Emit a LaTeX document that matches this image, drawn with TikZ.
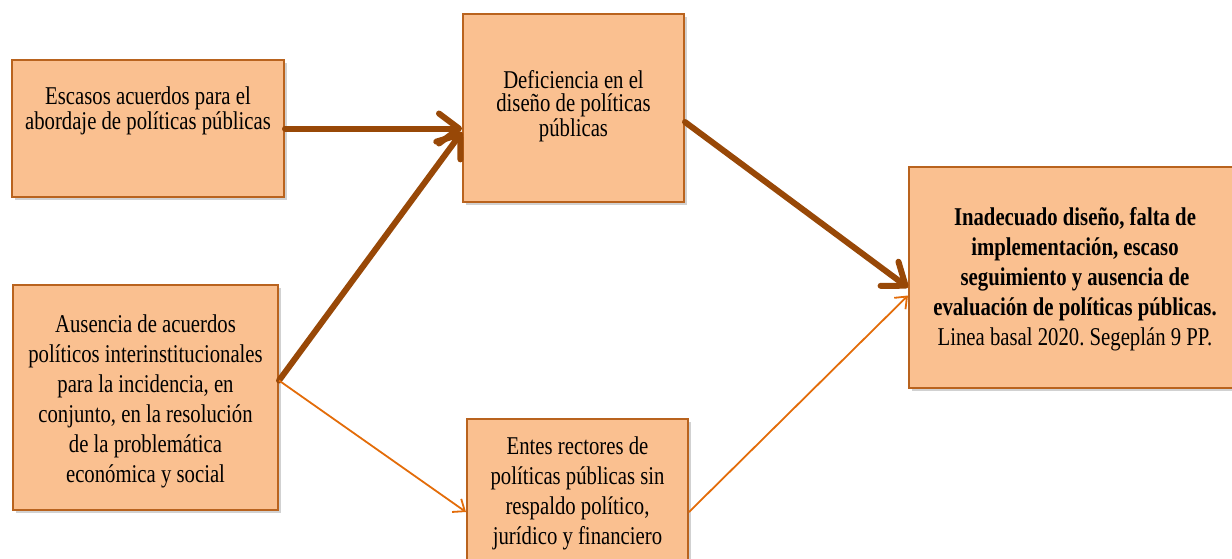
\documentclass[tikz,border=0pt]{standalone}
\usepackage{fontspec}
\setmainfont[FakeStretch=0.81]{Liberation Serif}
\usetikzlibrary{arrows.meta,shadows}
\definecolor{cajafondo}{HTML}{FAC090}
\definecolor{cajaborde}{HTML}{B9631E}
\definecolor{flechafuerte}{HTML}{984807}
\definecolor{flechadebil}{HTML}{E36C09}
\frenchspacing
\tikzset{
  caja/.style={rectangle,draw=cajaborde,line width=1pt,fill=cajafondo,inner sep=0pt,
    drop shadow={shadow xshift=1.5pt,shadow yshift=-1.5pt,opacity=0.3,fill=black!60}},
  texto/.style={align=center,font=\fontsize{12.8}{15}\selectfont,inner sep=0pt},
  fuerte/.style={draw=flechafuerte,line width=3pt,line cap=round,-{Straight Barb[length=10pt,width=15pt,round]}},
  debil/.style={draw=flechadebil,line width=0.9pt,-{Straight Barb[length=5pt,width=8pt]}}
}
\begin{document}
\begin{tikzpicture}[x=0.5pt,y=-0.5pt]
\path[use as bounding box,clip] (0,0) rectangle (1232,558);
\node[caja,minimum width=136pt,minimum height=68.5pt] (A) at (148,128.5) {};
\node[caja,minimum width=110.5pt,minimum height=94pt] (B) at (573.5,108) {};
\node[caja,minimum width=166pt,minimum height=110.5pt] (C) at (1075,277.5) {};
\node[caja,minimum width=132.5pt,minimum height=112.5pt] (D) at (145.5,397.5) {};
\node[caja,minimum width=110.5pt,minimum height=72pt] (E) at (577.5,491) {};
\node[texto,font=\fontsize{12.8}{11}\selectfont] (atxt) at (148,111)
  {Escasos acuerdos para el\\abordaje de políticas públicas};
\node[texto,font=\fontsize{12.8}{11.5}\selectfont] (btxt) at (573.5,106)
  {Deficiencia en el\\diseño de políticas\\públicas};
\node[texto] (ctxt) at (1075,279)
  {\textbf{Inadecuado diseño, falta de}\\\textbf{implementación, escaso}\\\textbf{seguimiento y ausencia de}\\\textbf{evaluación de políticas públicas.}\\Linea basal 2020. Segeplán 9 PP.};
\node[texto] (dtxt) at (145.5,401)
  {Ausencia de acuerdos\\políticos interinstitucionales\\para la incidencia, en\\conjunto, en la resolución\\de la problemática\\económica y social};
\node[texto] (etxt) at (577.5,493)
  {Entes rectores de\\políticas públicas sin\\respaldo político,\\jurídico y financiero};
\coordinate (dsal) at ([yshift=8.5pt]D.east);
\draw[fuerte] (A.east) -- (A.east -| B.west);
\draw[fuerte] (dsal) -- ([yshift=-12pt]B.west);
\draw[fuerte] ([yshift=-7pt]B.east) -- ([yshift=-5pt]C.west);
\draw[debil] (dsal) -- ([yshift=-10.5pt]E.west);
\draw[debil] ([yshift=-10.5pt]E.east) -- ([yshift=-9pt]C.west);
\end{tikzpicture}
\end{document}
